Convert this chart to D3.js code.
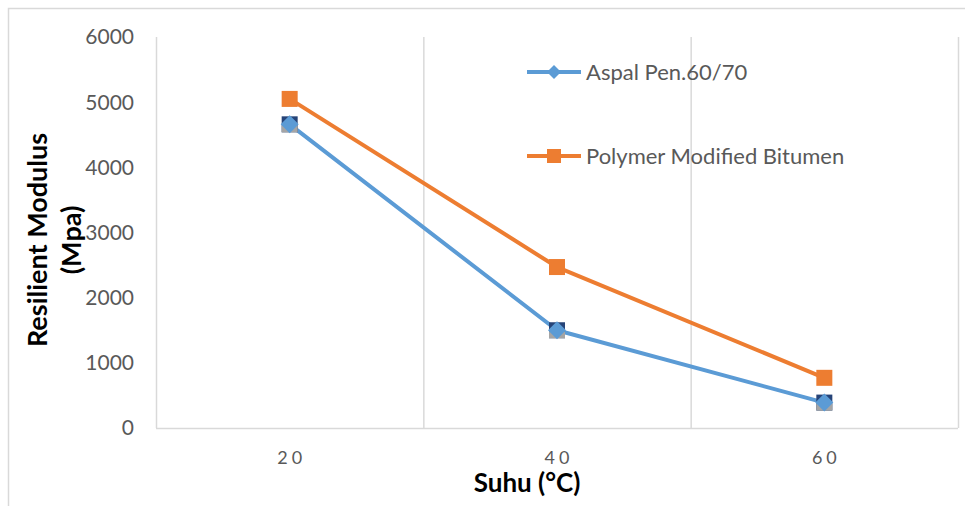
<!DOCTYPE html>
<html>
<head>
<meta charset="utf-8">
<script src="https://cdn.jsdelivr.net/npm/d3@7"></script>
<style>
  body { margin: 0; background: #fff; }
  svg { display: block; font-family: Lato, "Open Sans", sans-serif; }
</style>
</head>
<body>
<svg id="chart" width="965" height="506"></svg>
<script>
// chart data
const temps = ["20", "40", "60"];
const aspal = [4660, 1500, 390];
const polymer = [5050, 2470, 770];
const yTicks = [0, 1000, 2000, 3000, 4000, 5000, 6000];
const seriesNames = ["Aspal Pen.60/70", "Polymer Modified Bitumen"];

const svg = d3.select('#chart');
const M = { left: 156, right: 958, top: 37, bottom: 428 };

const x = d3.scaleBand().domain(temps).range([M.left, M.right]);
const y = d3.scaleLinear().domain([0, 6000]).range([M.bottom, M.top]);

// outer chart border
svg.append('rect')
  .attr('x', 8.5).attr('y', 8.5)
  .attr('width', 980).attr('height', 520)
  .attr('fill', 'none').attr('stroke', '#d9d9d9').attr('stroke-width', 1.5);

// vertical gridlines at category boundaries
const bounds = temps.map(t => x(t)).concat([M.right]);
svg.append('g').selectAll('line')
  .data(bounds)
  .enter().append('line')
  .attr('x1', d => d + 0.5).attr('x2', d => d + 0.5)
  .attr('y1', M.top).attr('y2', M.bottom)
  .attr('stroke', '#d9d9d9').attr('stroke-width', 1.5);

// baseline
svg.append('line')
  .attr('x1', M.left).attr('x2', M.right)
  .attr('y1', M.bottom + 0.5).attr('y2', M.bottom + 0.5)
  .attr('stroke', '#d9d9d9').attr('stroke-width', 1.5);

// y tick labels
svg.append('g').selectAll('text')
  .data(yTicks)
  .enter().append('text')
  .attr('x', 134).attr('y', d => y(d))
  .attr('dy', '0.35em')
  .attr('text-anchor', 'end')
  .attr('fill', '#595959')
  .style('font-size', '21px')
  .text(d => d);

// x tick labels (spaced digits like the original)
svg.append('g').selectAll('text')
  .data(temps)
  .enter().append('text')
  .attr('x', d => x(d) + x.bandwidth() / 2 + 2)
  .attr('y', 464)
  .attr('text-anchor', 'middle')
  .attr('fill', '#595959')
  .style('font-size', '18px')
  .style('letter-spacing', '4px')
  .text(d => d);

// axis titles
svg.append('text')
  .attr('x', 527).attr('y', 492)
  .attr('text-anchor', 'middle')
  .attr('fill', '#000')
  .style('font-size', '26px').style('font-weight', 'bold')
  .text('Suhu (°C)');

const yTitle = svg.append('text')
  .attr('transform', 'translate(47,240) rotate(-90)')
  .attr('text-anchor', 'middle')
  .attr('fill', '#000')
  .style('font-size', '27px').style('font-weight', 'bold');
yTitle.append('tspan').attr('x', 0).attr('y', 0).text('Resilient Modulus');
yTitle.append('tspan').attr('x', 0).attr('y', 34).text('(Mpa)');

const cx = d => x(d) + x.bandwidth() / 2;
const line = d3.line().x(d => cx(d.t)).y(d => y(d.v));

// lines
const series = [
  { name: seriesNames[0], vals: aspal, color: '#5B9BD5' },
  { name: seriesNames[1], vals: polymer, color: '#ED7D31' }
];
series.forEach(s => {
  svg.append('path')
    .datum(temps.map((t, i) => ({ t: t, v: s.vals[i] })))
    .attr('d', line)
    .attr('fill', 'none')
    .attr('stroke', s.color)
    .attr('stroke-width', 4)
    .attr('stroke-linejoin', 'round');
});

// hidden-series markers under the aspal diamonds (navy square, grey bottom)
const under = svg.append('g');
temps.forEach((t, i) => {
  const px = cx(t), py = y(aspal[i]);
  under.append('rect')
    .attr('x', px - 8).attr('y', py - 8).attr('width', 16).attr('height', 16)
    .attr('fill', '#264478');
  under.append('rect')
    .attr('x', px - 8).attr('y', py + 1).attr('width', 16).attr('height', 7)
    .attr('fill', '#A5A5A5');
});

// aspal diamonds
svg.append('g').selectAll('path')
  .data(temps)
  .enter().append('path')
  .attr('transform', (d, i) => `translate(${cx(d)},${y(aspal[i])})`)
  .attr('d', 'M0,-9L9,0L0,9L-9,0Z')
  .attr('fill', '#5B9BD5');

// polymer squares
svg.append('g').selectAll('rect')
  .data(temps)
  .enter().append('rect')
  .attr('x', d => cx(d) - 8)
  .attr('y', (d, i) => y(polymer[i]) - 8)
  .attr('width', 16).attr('height', 16)
  .attr('fill', '#ED7D31');

// legend
const legend = svg.append('g');
series.forEach((s, i) => {
  const ly = i === 0 ? 72 : 156;
  legend.append('line')
    .attr('x1', 527).attr('x2', 581).attr('y1', ly).attr('y2', ly)
    .attr('stroke', s.color).attr('stroke-width', 4);
  if (i === 0) {
    legend.append('path')
      .attr('transform', `translate(554,${ly})`)
      .attr('d', 'M0,-7L7,0L0,7L-7,0Z')
      .attr('fill', s.color);
  } else {
    legend.append('rect')
      .attr('x', 547).attr('y', ly - 7).attr('width', 14).attr('height', 14)
      .attr('fill', s.color);
  }
  legend.append('text')
    .attr('x', 586).attr('y', ly).attr('dy', '0.35em')
    .attr('fill', '#595959')
    .style('font-size', '22px')
    .text(s.name);
});
</script>
</body>
</html>
